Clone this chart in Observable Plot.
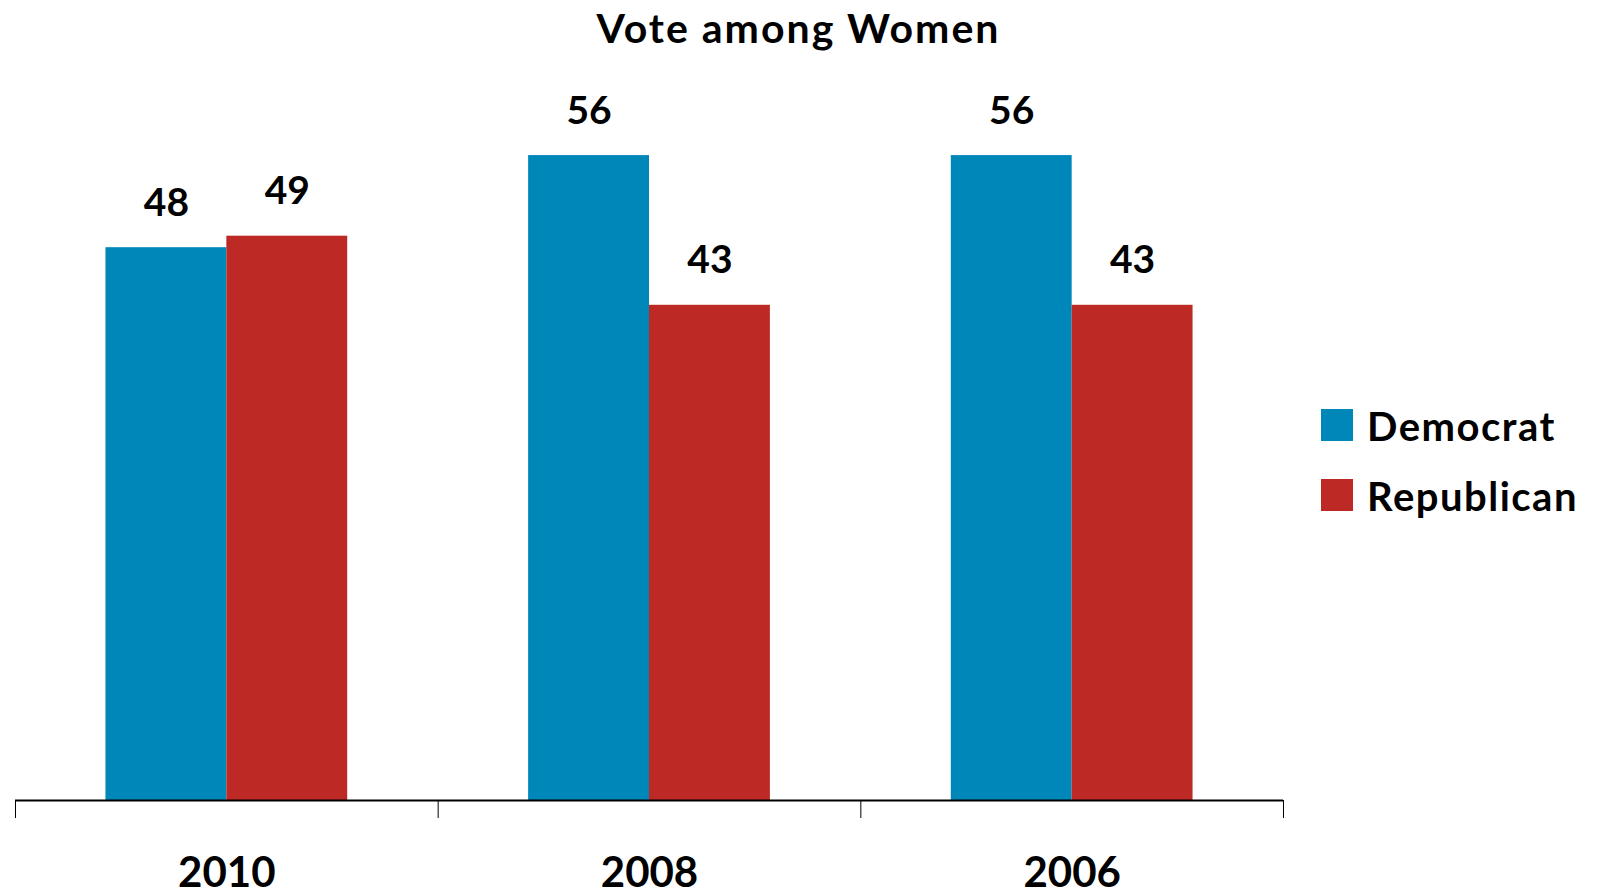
<!DOCTYPE html>
<html><head><meta charset="utf-8">
<script src="https://cdn.jsdelivr.net/npm/d3@7"></script>
<script src="https://cdn.jsdelivr.net/npm/@observablehq/plot@0.6"></script>
<style>html,body{margin:0;padding:0;background:#fff;overflow:hidden;}</style>
</head><body><div id="chart"></div>
<script>
const title = "Vote among Women";
const years = ["2010", "2008", "2006"];
const parties = ["Democrat", "Republican"];
const democrat = [48, 56, 56];
const republican = [49, 43, 43];
const colors = ["#0087b9", "#bd2a26"];

const data = years.flatMap((year, i) => [
  {year, i, party: "Democrat", value: democrat[i]},
  {year, i, party: "Republican", value: republican[i]}
]);
const BAR = 0.286; // share of a year group taken by one bar
const isDem = d => d.party === "Democrat";
const x1 = d => d.i + 0.5 - (isDem(d) ? BAR : 0);
const x2 = d => d.i + 0.5 + (isDem(d) ? 0 : BAR);
const xc = d => d.i + 0.5 + (isDem(d) ? -BAR / 2 : BAR / 2);

const font = "Lato, 'Open Sans', sans-serif";
const plot = Plot.plot({
  width: 1597, height: 895,
  marginLeft: 15, marginRight: 314, marginTop: 109, marginBottom: 95,
  style: {fontFamily: font, background: "#fff", color: "#000"},
  x: {domain: [0, years.length], axis: null},
  y: {domain: [0, 60], axis: null},
  color: {domain: parties, range: colors},
  marks: [
    Plot.rectY(data, {x1, x2, y: "value", fill: "party"}),
    Plot.text(data, {x: xc, y: "value", text: d => String(d.value), dy: -32, lineAnchor: "bottom", fontSize: 39, fontWeight: "bold", fill: "#000"}),
    Plot.ruleY([0], {stroke: "#000", strokeWidth: 2}),
    Plot.axisX({ticks: d3.range(years.length + 1), tickSize: 18, tickFormat: () => "", stroke: "#000"}),
    Plot.text(years, {x: (d, i) => i + 0.5, frameAnchor: "bottom", dy: 86, lineAnchor: "bottom", text: d => d, fontSize: 42, fontWeight: "bold", fill: "#000"})
  ]
});
document.getElementById("chart").appendChild(plot);

const svg = d3.select(plot);
svg.append("text").attr("x", 798.5).attr("y", 43).attr("text-anchor", "middle")
  .attr("font-family", font).attr("font-weight", "bold").attr("font-size", 41)
  .attr("letter-spacing", 2).attr("fill", "#000").text(title);

const leg = svg.append("g").attr("font-family", font).attr("font-weight", "bold").attr("font-size", 40).attr("text-anchor", "start");
parties.forEach((p, k) => {
  leg.append("rect").attr("x", 1321).attr("y", 409 + k * 70).attr("width", 32).attr("height", 32).attr("fill", colors[k]);
  leg.append("text").attr("x", 1367).attr("y", 441 + k * 70).attr("letter-spacing", 1.5).attr("fill", "#000").text(p);
});
</script></body></html>
